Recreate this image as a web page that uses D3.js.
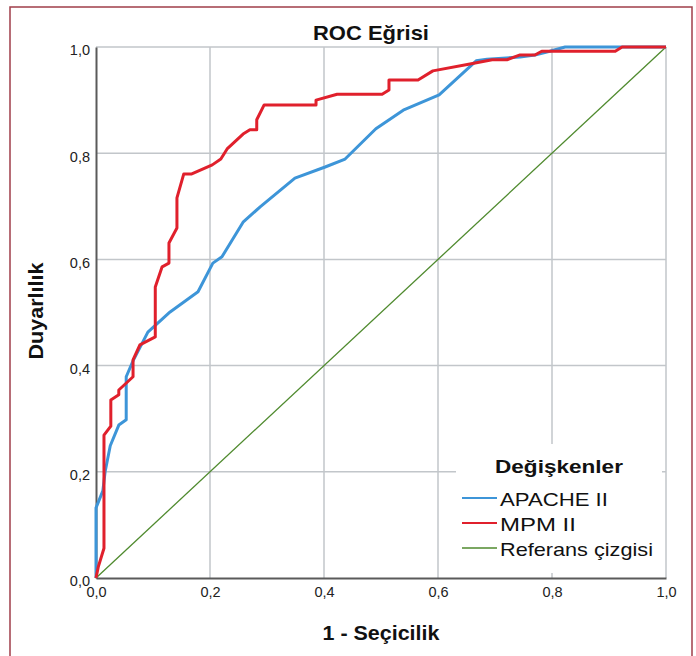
<!DOCTYPE html>
<html lang="tr">
<head>
<meta charset="UTF-8">
<title>ROC Eğrisi</title>
<style>
  body { margin: 0; background: #fff; }
  svg { display: block; font-family: "Liberation Sans", Arial, sans-serif; }
</style>
</head>
<body>
<script src="https://cdn.jsdelivr.net/npm/d3@7"></script>
<script>
// APACHE II: 1 - seçicilik / duyarlılık
const apacheX = [0, 0, 0.012, 0.016, 0.025, 0.040, 0.053, 0.053, 0.065, 0.091, 0.130, 0.179, 0.205, 0.221, 0.258, 0.288, 0.349, 0.402, 0.437, 0.491, 0.539, 0.602, 0.667, 0.686, 0.744, 0.770, 0.796, 0.823, 1];
const apacheY = [0, 0.132, 0.164, 0.200, 0.249, 0.288, 0.298, 0.379, 0.409, 0.463, 0.501, 0.539, 0.593, 0.605, 0.670, 0.699, 0.753, 0.774, 0.789, 0.846, 0.881, 0.910, 0.974, 0.977, 0.981, 0.985, 0.992, 1, 1];
// MPM II
const mpmX = [0, 0.004, 0.014, 0.014, 0.026, 0.026, 0.040, 0.040, 0.065, 0.065, 0.077, 0.104, 0.104, 0.116, 0.128, 0.128, 0.142, 0.142, 0.154, 0.168, 0.204, 0.219, 0.230, 0.258, 0.270, 0.282, 0.282, 0.295, 0.386, 0.386, 0.423, 0.502, 0.514, 0.514, 0.565, 0.591, 0.656, 0.695, 0.721, 0.744, 0.770, 0.782, 0.911, 0.923, 1];
const mpmY = [0, 0.021, 0.056, 0.269, 0.286, 0.335, 0.345, 0.354, 0.379, 0.411, 0.439, 0.454, 0.548, 0.586, 0.593, 0.631, 0.659, 0.716, 0.761, 0.761, 0.778, 0.789, 0.808, 0.836, 0.844, 0.844, 0.863, 0.891, 0.891, 0.900, 0.911, 0.911, 0.919, 0.938, 0.938, 0.955, 0.968, 0.976, 0.976, 0.985, 0.985, 0.992, 0.992, 1, 1];
const refX = [0, 1];
const refY = [0, 1];

const ticks = [0, 0.2, 0.4, 0.6, 0.8, 1.0];
const tickLabels = ["0,0", "0,2", "0,4", "0,6", "0,8", "1,0"];
const seriesNames = ["APACHE II", "MPM II", "Referans çizgisi"];
const seriesColors = ["#3d95d8", "#e0202c", "#4f8a2e"];

const W = 696, H = 656;
const x = d3.scaleLinear().domain([0, 1]).range([96, 666]);
const y = d3.scaleLinear().domain([0, 1]).range([578, 47]);

const svg = d3.select("body").append("svg").attr("width", W).attr("height", H);

// yazıyı yatayda genişlet (referanstaki yazı biraz geniş)
function wideText(parent, str, px, py, size, weight, targetW, anchor, rot) {
  const g = parent.append("g");
  const t = g.append("text").text(str)
    .attr("font-size", size).attr("font-weight", weight).attr("fill", "#111");
  const w = t.node().getComputedTextLength();
  const sx = targetW / w;
  let dx = 0;
  if (anchor === "middle") dx = -targetW / 2;
  t.attr("x", dx / sx);
  g.attr("transform", `translate(${px},${py})` + (rot ? ` rotate(${rot})` : "") + ` scale(${sx},1)`);
  return g;
}

// çerçeve
svg.append("rect")
  .attr("x", 10).attr("y", 7).attr("width", 682).attr("height", 670)
  .attr("fill", "none").attr("stroke", "#a03e4a").attr("stroke-width", 1.5);

// ızgara
const grid = svg.append("g").attr("stroke", "#c2c6ca").attr("stroke-width", 1.5);
grid.selectAll(".gx").data(ticks.slice(1)).enter().append("line")
  .attr("x1", d => x(d)).attr("x2", d => x(d))
  .attr("y1", y(0)).attr("y2", y(1));
grid.selectAll(".gy").data(ticks.slice(1)).enter().append("line")
  .attr("x1", x(0)).attr("x2", x(1))
  .attr("y1", d => y(d)).attr("y2", d => y(d));

// eksenler
const xAxis = svg.append("g").attr("transform", `translate(0,${y(0)})`)
  .call(d3.axisBottom(x).tickValues(ticks).tickFormat((d, i) => tickLabels[i]).tickSize(0).tickPadding(9));
const yAxis = svg.append("g").attr("transform", `translate(${x(0)},0)`)
  .call(d3.axisLeft(y).tickValues(ticks).tickFormat((d, i) => tickLabels[i]).tickSize(0).tickPadding(6));
[xAxis, yAxis].forEach(a => {
  a.select(".domain").attr("stroke", "#5a5a5a").attr("stroke-width", 2);
  a.selectAll("text").attr("font-size", 14.5).attr("fill", "#222")
    .attr("font-family", "'Liberation Sans', Arial, sans-serif");
});
yAxis.selectAll("text").attr("dy", "0.55em");

// lejant kutusu
svg.append("rect").attr("x", 456).attr("y", 444).attr("width", 206).attr("height", 129).attr("fill", "#fff");

// eğriler
const line = d3.line().x(d => x(d[0])).y(d => y(d[1]));
const series = [
  d3.zip(apacheX, apacheY),
  d3.zip(mpmX, mpmY),
  d3.zip(refX, refY)
];
svg.append("path").datum(series[2]).attr("d", line)
  .attr("fill", "none").attr("stroke", seriesColors[2]).attr("stroke-width", 1.3);
svg.append("path").datum(series[0]).attr("d", line)
  .attr("fill", "none").attr("stroke", seriesColors[0]).attr("stroke-width", 3).attr("stroke-linejoin", "round");
svg.append("path").datum(series[1]).attr("d", line)
  .attr("fill", "none").attr("stroke", seriesColors[1]).attr("stroke-width", 3).attr("stroke-linejoin", "round");

// başlıklar
wideText(svg, "ROC Eğrisi", 371, 40, 19.5, "bold", 116, "middle");
wideText(svg, "1 - Seçicilik", 381, 640, 19.5, "bold", 117, "middle");
wideText(svg, "Duyarlılık", 43, 311, 19.5, "bold", 97, "middle", -90);

// lejant
wideText(svg, "Değişkenler", 559, 473, 18.5, "bold", 128, "middle");
const legendY = [498, 523, 548];
const legendLen = [108, 76, 153];
const leg = svg.append("g");
seriesNames.forEach((name, i) => {
  leg.append("line").attr("x1", 462).attr("x2", 497)
    .attr("y1", legendY[i]).attr("y2", legendY[i])
    .attr("stroke", seriesColors[i]).attr("stroke-width", i === 2 ? 1.5 : 2.2);
  wideText(leg, name, 500, legendY[i] + 8, 19, "normal", legendLen[i]);
});
</script>
</body>
</html>
